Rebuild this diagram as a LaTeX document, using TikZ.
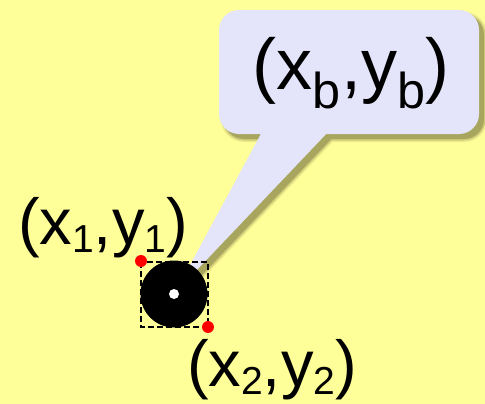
\documentclass[tikz,border=0pt]{standalone}
\usepackage{fontspec}
\setmainfont{Liberation Sans}
\definecolor{bgyellow}{HTML}{FFFF99}
\definecolor{calloutfill}{HTML}{E4E4FA}
\definecolor{shadowA}{HTML}{EDEA8C}
\definecolor{shadowB}{HTML}{CFCB78}
\definecolor{shadowC}{HTML}{A8A55E}
\definecolor{dotred}{HTML}{FF0000}
\newcommand\sbs[1]{\raisebox{-0.13em}{\scalebox{0.6}{#1}}}
\newcommand\sbt[1]{\raisebox{-0.26em}{\scalebox{0.7}{#1}}}
\tikzset{
  lbl/.style={inner sep=0pt, anchor=base, font=\fontsize{65}{67}\selectfont},
  biglbl/.style={inner sep=0pt, anchor=base, font=\fontsize{72}{74}\selectfont},
  reddot/.style={circle, fill=dotred, inner sep=0pt, minimum size=12pt},
  bbox/.style={draw=black, line width=2.2pt, dash pattern=on 6pt off 3pt},
  callshape/.style={rounded corners=20pt},
}
\begin{document}
\begin{tikzpicture}[x=1pt,y=-1pt]
\fill[bgyellow] (0,0) rectangle (485,404);
\useasboundingbox (0,0) rectangle (485,404);
% blurred shadow
\begin{scope}[shift={(5,5)}]
\filldraw[shadowA, line width=6pt, callshape] (219,10) rectangle (479,134);
\filldraw[shadowA, line width=6pt, line join=round] (263,130) -- (330,130) -- (175,293) -- cycle;
\filldraw[shadowB, line width=3pt, callshape] (219,10) rectangle (479,134);
\filldraw[shadowB, line width=3pt, line join=round] (263,130) -- (330,130) -- (175,293) -- cycle;
\fill[shadowC, callshape] (219,10) rectangle (479,134);
\fill[shadowC] (263,130) -- (330,130) -- (175,293) -- cycle;
\end{scope}
% callout
\fill[calloutfill, callshape] (219,10) rectangle (479,134);
\fill[calloutfill] (263,130) -- (330,130) -- (175,293) -- cycle;
% object
\node[circle, fill=black, inner sep=0pt, minimum size=67pt] (ball) at (174,294) {};
\draw[bbox] (141,262) rectangle (208,327);
\node[circle, fill=white, inner sep=0pt, minimum size=10pt] (ctr) at (174,294) {};
\node[reddot] (p1) at (141,261) {};
\node[reddot] (p2) at (208,327) {};
% labels
\node[biglbl] (lb) at (351,90) {(x\sbt{b},y\sbt{b})};
\node[lbl] (l1) at (103,244) {(x\sbs{1},y\sbs{1})};
\node[lbl] (l2) at (272,386) {(x\sbs{2},y\sbs{2})};
\end{tikzpicture}
\end{document}
